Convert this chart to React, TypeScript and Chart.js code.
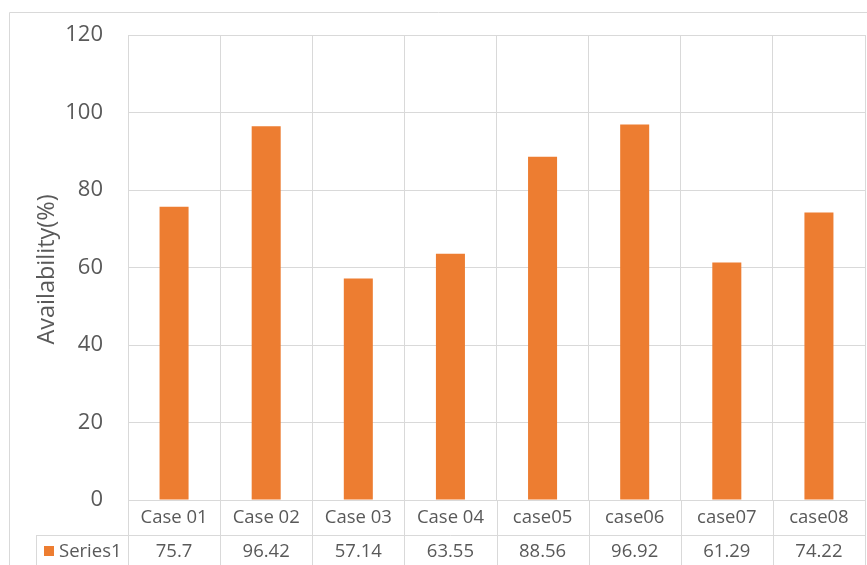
import React, { useEffect, useRef } from "react";
import { Chart, registerables } from "chart.js";

Chart.register(...registerables);

const categories = ["Case 01", "Case 02", "Case 03", "Case 04", "case05", "case06", "case07", "case08"];
const seriesName = "Series1";
const values = [75.7, 96.42, 57.14, 63.55, 88.56, 96.92, 61.29, 74.22];
const valueLabels = ["75.7", "96.42", "57.14", "63.55", "88.56", "96.92", "61.29", "74.22"];
const yTitle = "Availability(%)";

const BAR = "#ED7D31";
const GRID = "#d9d9d9";
const TEXT = "#595959";
const FONT = "'Open Sans', sans-serif";

const tablePlugin = {
  id: "dataTable",
  afterDraw(chart: any) {
    const ctx = chart.ctx;
    const x = chart.scales.x;
    const area = chart.chartArea;
    const n = categories.length;
    const cw = (area.right - area.left) / n;
    const rowTop = area.bottom;
    const rowMid = rowTop + 35;
    const rowBot = chart.height + 5;
    ctx.save();
    ctx.strokeStyle = GRID;
    ctx.lineWidth = 1;
    ctx.beginPath();
    ctx.moveTo(9.5, chart.height + 5);
    ctx.lineTo(9.5, 12.5);
    ctx.lineTo(chart.width + 5, 12.5);
    ctx.stroke();
    ctx.beginPath();
    for (let i = 0; i <= n; i++) {
      const px = Math.round(area.left + i * cw) + 0.5;
      ctx.moveTo(px, rowTop);
      ctx.lineTo(px, rowBot);
    }
    ctx.moveTo(36.5, rowMid + 0.5);
    ctx.lineTo(area.right, rowMid + 0.5);
    ctx.moveTo(36.5, rowMid);
    ctx.lineTo(36.5, rowBot);
    ctx.stroke();
    ctx.fillStyle = TEXT;
    ctx.font = `18.5px ${FONT}`;
    ctx.textAlign = "center";
    ctx.textBaseline = "middle";
    for (let i = 0; i < n; i++) {
      const cx = x.getPixelForValue(i);
      ctx.fillText(categories[i], cx, rowTop + 18);
      ctx.fillText(valueLabels[i], cx, rowMid + 17);
    }
    ctx.fillStyle = BAR;
    ctx.fillRect(44, rowMid + 11, 10, 10);
    ctx.fillStyle = TEXT;
    ctx.textAlign = "left";
    ctx.fillText(seriesName, 59, rowMid + 17);
    ctx.font = `23.5px ${FONT}`;
    ctx.translate(47, (area.top + area.bottom) / 2 + 2);
    ctx.rotate(-Math.PI / 2);
    ctx.textAlign = "center";
    ctx.fillText(yTitle, 0, 0);
    ctx.restore();
  },
};

export default function App() {
  const ref = useRef<HTMLCanvasElement>(null);
  useEffect(() => {
    if (!ref.current) return;
    const chart = new Chart(ref.current, {
      type: "bar",
      data: {
        labels: categories,
        datasets: [
          {
            label: seriesName,
            data: values,
            backgroundColor: BAR,
            barPercentage: 0.315,
            categoryPercentage: 1,
          },
        ],
      },
      options: {
        responsive: false,
        animation: false,
        layout: { padding: { left: 0, top: 35, right: 2, bottom: 0 } },
        plugins: { legend: { display: false }, tooltip: { enabled: false } },
        scales: {
          x: {
            grid: { color: GRID, offset: true, drawTicks: false },
            border: { color: GRID },
            ticks: { display: false },
            afterFit: (s: any) => {
              s.height = 65;
              s.paddingLeft = 0;
              s.paddingRight = 0;
            },
          },
          y: {
            min: 0,
            max: 120,
            ticks: {
              stepSize: 20,
              padding: 25,
              color: TEXT,
              font: { family: FONT, size: 22 },
            },
            grid: { color: GRID, drawTicks: false },
            border: { color: GRID },
            afterFit: (s: any) => {
              s.width = 128;
              s.paddingTop = 0;
              s.paddingBottom = 0;
            },
          },
        },
      },
      plugins: [tablePlugin],
    });
    return () => chart.destroy();
  }, []);
  return (
    <div style={{ position: "fixed", left: 0, top: 0, width: 867, height: 565, background: "#fff" }}>
      <canvas ref={ref} width={867} height={565} style={{ width: 867, height: 565 }} />
    </div>
  );
}
